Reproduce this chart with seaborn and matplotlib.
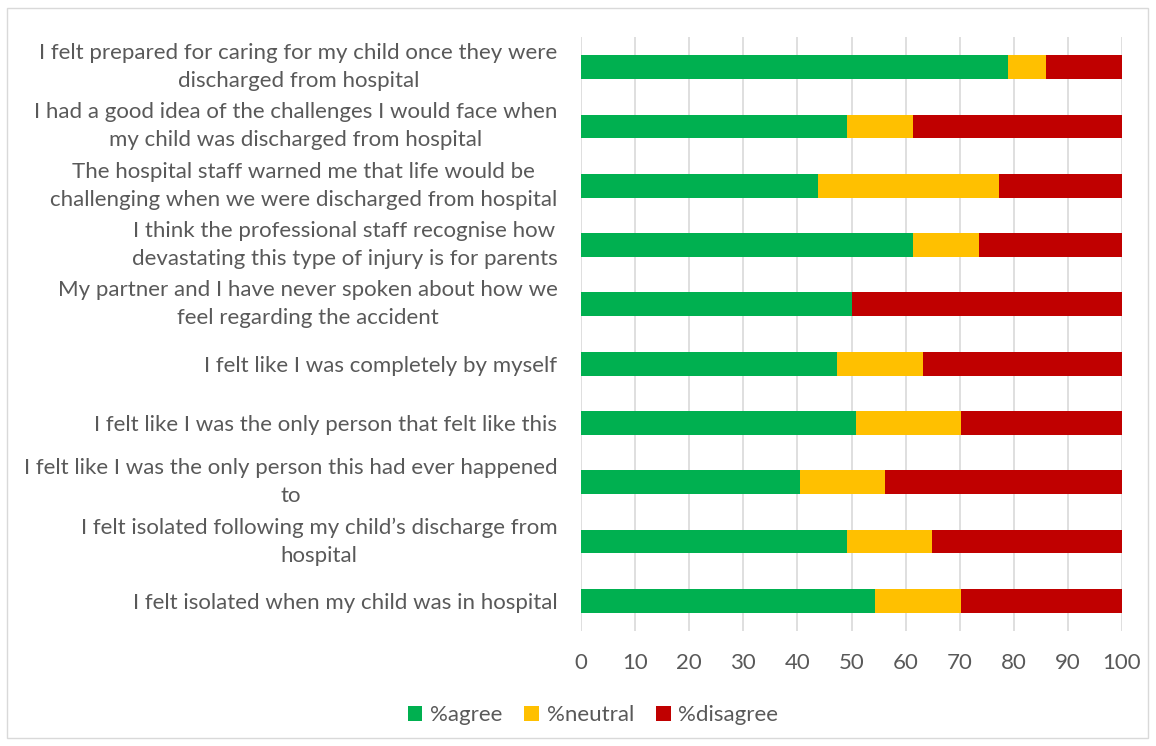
import matplotlib
matplotlib.use("Agg")
import matplotlib.pyplot as plt
from matplotlib.patches import Rectangle, Patch
import seaborn as sns
import pandas as pd
import numpy as np

# Survey statements, top to bottom
statements = [
    "I felt prepared for caring for my child once they were\ndischarged from hospital",
    "I had a good idea of the challenges I would face when\nmy child was discharged from hospital",
    "The hospital staff warned me that life would be\nchallenging when we were discharged from hospital",
    "I think the professional staff recognise how\ndevastating this type of injury is for parents",
    "My partner and I have never spoken about how we\nfeel regarding the accident",
    "I felt like I was completely by myself",
    "I felt like I was the only person that felt like this",
    "I felt like I was the only person this had ever happened\nto",
    "I felt isolated following my child\u2019s discharge from\nhospital",
    "I felt isolated when my child was in hospital",
]
pct_agree = [78.9, 49.1, 43.8, 61.4, 50.0, 47.4, 50.9, 40.4, 49.1, 54.4]
pct_neutral = [7.1, 12.3, 33.4, 12.2, 0.0, 15.8, 19.3, 15.8, 15.8, 15.8]
pct_disagree = [14.0, 38.6, 22.8, 26.4, 50.0, 36.8, 29.8, 43.8, 35.1, 29.8]
series_names = ["%agree", "%neutral", "%disagree"]
series_colors = ["#00B050", "#FFC000", "#C00000"]
x_ticks = list(range(0, 101, 10))

df = pd.DataFrame({
    "statement": statements,
    "agree": pct_agree,
    "neutral": pct_neutral,
    "disagree": pct_disagree,
})
df["cum_agree"] = df["agree"]
df["cum_neutral"] = df["agree"] + df["neutral"]
df["cum_total"] = df["agree"] + df["neutral"] + df["disagree"]

sns.set_theme(style="white")
plt.rcParams["font.family"] = ["Lato", "DejaVu Sans"]
text_color = "#595959"
fs = 16

fig = plt.figure(figsize=(11.56, 7.46), dpi=100)
ax = fig.add_axes([581 / 1156, 1 - 630.6 / 746, (1122 - 581) / 1156, (630.6 - 37.4) / 746])

# stacked bars drawn as cumulative layers, widest first
for col, color in zip(["cum_total", "cum_neutral", "cum_agree"], series_colors[::-1]):
    sns.barplot(data=df, x=col, y="statement", orient="h", color=color,
                width=0.4, saturation=1, ax=ax, zorder=3, linewidth=0)

ax.set_xlim(0, 100)
ax.set_xticks(x_ticks)
ax.set_xlabel("")
ax.set_ylabel("")
ax.grid(axis="x", color="#D9D9D9", linewidth=1.2, zorder=0)
ax.grid(axis="y", visible=False)
for s in ax.spines.values():
    s.set_visible(False)
ax.tick_params(axis="x", length=0, pad=16, labelsize=fs, labelcolor=text_color)
ax.tick_params(axis="y", length=0, pad=17, labelsize=fs, labelcolor=text_color)
for lbl in ax.get_yticklabels():
    lbl.set_multialignment("center")
    lbl.set_linespacing(1.5)
    if "\n" in lbl.get_text():
        lbl.set_verticalalignment("center")

handles = [Patch(facecolor=c, edgecolor="none") for c in series_colors]
fig.legend(handles, series_names, loc="center", bbox_to_anchor=(593 / 1156, 1 - 715 / 746),
           ncol=3, frameon=False, fontsize=fs, labelcolor=text_color,
           handlelength=0.65, handleheight=0.65, handletextpad=0.35, columnspacing=1.0)

fig.patches.append(Rectangle((7 / 1156, 8 / 746), (1148 - 7) / 1156, (738 - 8) / 746,
                             transform=fig.transFigure, fill=False,
                             edgecolor="#D9D9D9", linewidth=1))

fig.savefig("out.png", dpi=100, facecolor="white")
